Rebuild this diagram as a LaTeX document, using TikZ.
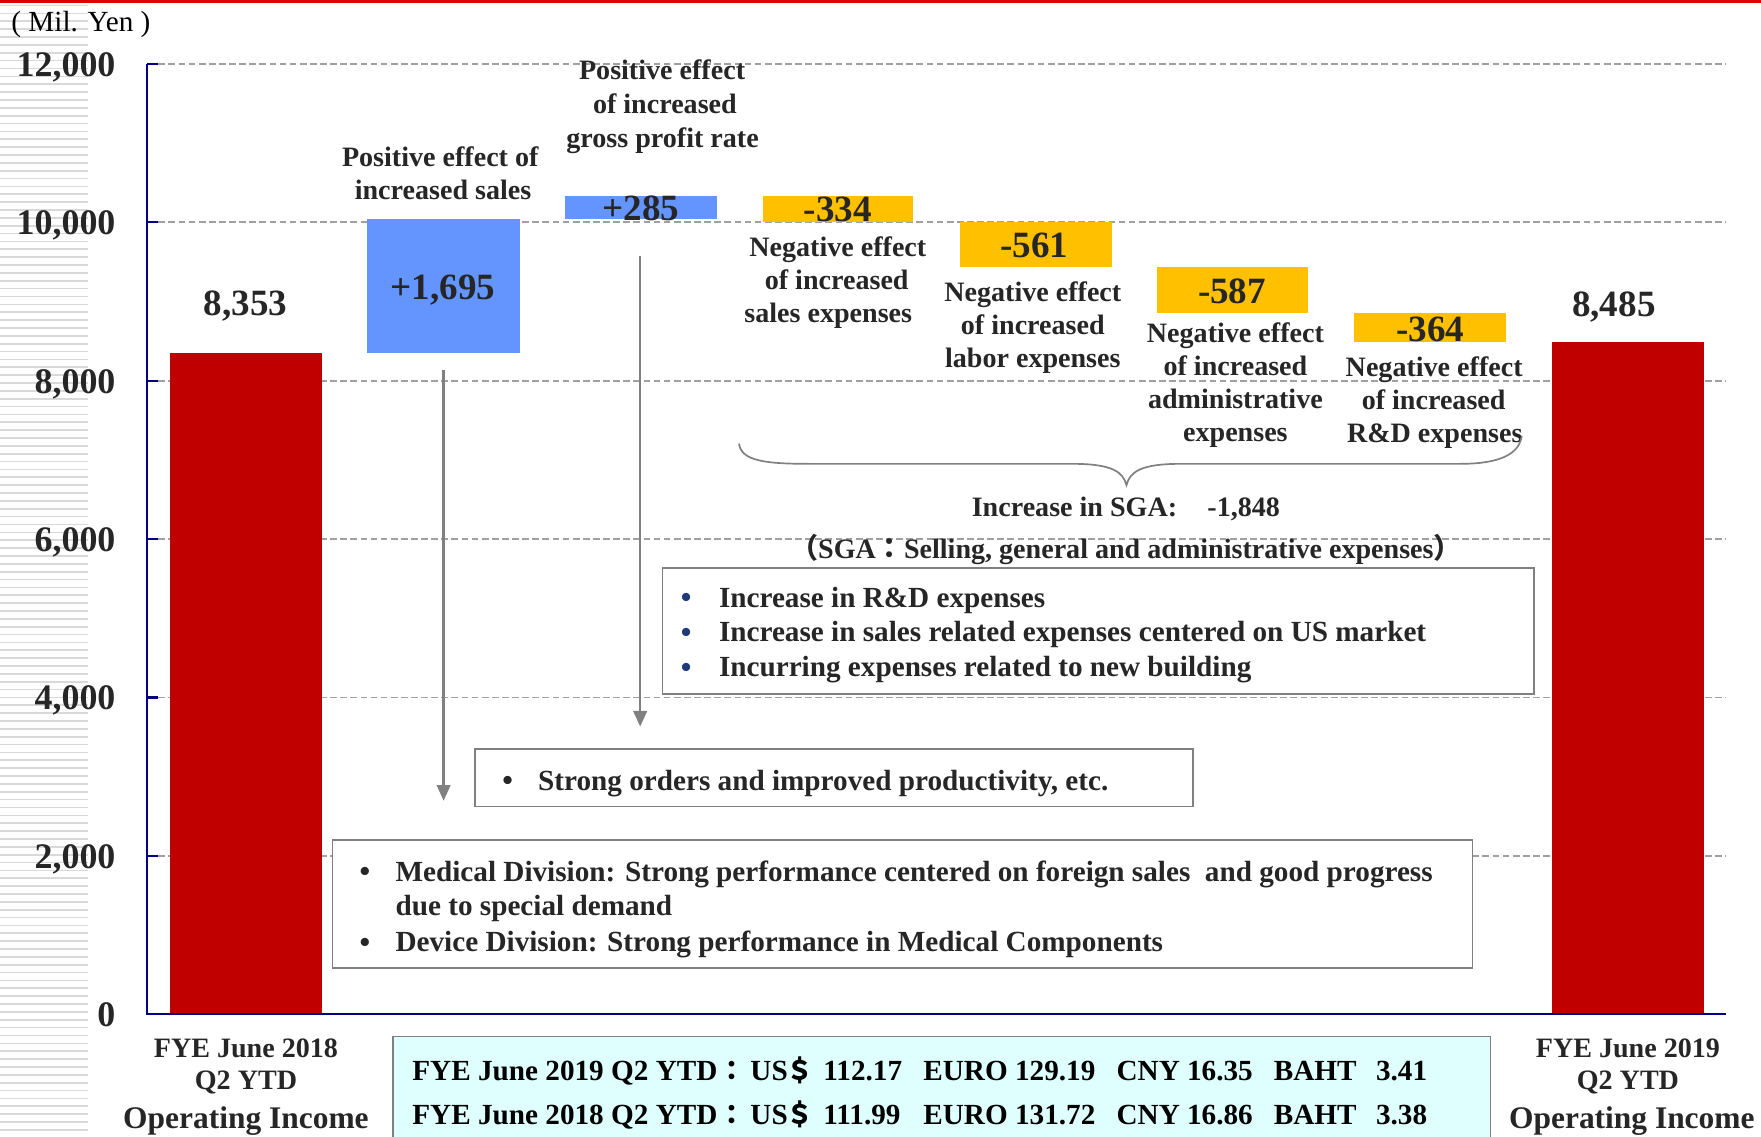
\documentclass[tikz,border=0pt]{standalone}
\usepackage{fontspec}
\setmainfont{Liberation Serif}
\newfontfamily\cjk{Noto Sans CJK JP}
\usetikzlibrary{arrows.meta}
\definecolor{txt}{HTML}{262626}
\definecolor{redbar}{HTML}{C00000}
\definecolor{bluebar}{HTML}{6495FF}
\definecolor{yelbar}{HTML}{FFC000}
\definecolor{axisblue}{HTML}{000080}
\definecolor{gridgray}{HTML}{A0A0A0}
\definecolor{boxgray}{HTML}{808080}
\definecolor{cyanfill}{HTML}{DFFFFF}
\definecolor{stripe}{HTML}{D9D9D9}
\definecolor{topred}{HTML}{E00000}
\definecolor{bulblue}{HTML}{1F3A78}
\begin{document}
\begin{tikzpicture}[x=1pt, y=-1pt,
  wbar/.style={inner sep=0pt, outer sep=0pt, anchor=north west},
  num/.style={font=\bfseries\fontsize{33}{38}\selectfont, text=txt, inner sep=0pt, anchor=base},
  lbl/.style={font=\bfseries\fontsize{25}{30}\selectfont, text=txt, inner sep=0pt, anchor=base},
  biglbl/.style={font=\bfseries\fontsize{28}{32}\selectfont, text=txt, inner sep=0pt, anchor=base},
  ylab/.style={font=\bfseries\fontsize{32}{36}\selectfont, text=txt, inner sep=0pt, anchor=base east},
  gridln/.style={gridgray, line width=1.6pt, dash pattern=on 6pt off 3pt},
  axtick/.style={axisblue, line width=2pt},
  infobox/.style={draw=boxgray, line width=1.5pt, fill=white, inner sep=0pt, outer sep=0pt, anchor=north west},
  btxt/.style={font=\bfseries\fontsize{26}{31}\selectfont, text=txt, inner sep=0pt, anchor=base west},
  bul/.style={font=\bfseries\fontsize{27}{31}\selectfont, inner sep=0pt, anchor=base},
  ctxt/.style={font=\bfseries\fontsize{26}{31}\selectfont, text=black, inner sep=0pt, anchor=base west},
  cjkc/.style={font=\cjk\bfseries\fontsize{24}{31}\selectfont, text=black, inner sep=0pt, anchor=base},
  conn/.style={boxgray, line width=2.2pt, -{Triangle[length=14pt,width=12pt]}},
]
\useasboundingbox (0,0) rectangle (1568,1012);
\fill[white] (0,0) rectangle (1568,1012);
% left stripes
\foreach \i in {0,...,143} \draw[stripe, line width=1.5pt] (0,5+7*\i) -- (78,5+7*\i);
% top red line
\fill[topred] (0,0) rectangle (1568,2.4);
\node[font=\fontsize{26}{30}\selectfont, text=black, inner sep=0pt, anchor=base west] (unit) at (10,28) {( Mil. Yen )};
% grid
\foreach \yy in {57,198,339,480,621,762} {
  \draw[gridln] (141,\yy) -- (1537,\yy);
  \draw[axtick] (131,\yy) -- (141,\yy);
}
% y labels
\node[ylab] (y12) at (103,68) {12,000};
\node[ylab] (y10) at (103,209) {10,000};
\node[ylab] (y8) at (103,350) {8,000};
\node[ylab] (y6) at (103,491) {6,000};
\node[ylab] (y4) at (103,632) {4,000};
\node[ylab] (y2) at (103,773) {2,000};
\node[ylab] (y0) at (103,914) {0};
% bars
\node[wbar, fill=redbar, minimum width=136pt, minimum height=588.9pt] (b1) at (151,314.1) {};
\node[wbar, fill=bluebar, minimum width=136pt, minimum height=119.5pt] (b2) at (327,194.6) {};
\node[wbar, fill=bluebar, minimum width=135pt, minimum height=20.1pt] (b3) at (503,174.5) {};
\node[wbar, fill=yelbar, minimum width=134pt, minimum height=23.5pt] (b4) at (679,174.5) {};
\node[wbar, fill=yelbar, minimum width=135pt, minimum height=39.6pt] (b5) at (855,198.0) {};
\node[wbar, fill=yelbar, minimum width=135pt, minimum height=41.4pt] (b6) at (1030,237.6) {};
\node[wbar, fill=yelbar, minimum width=135pt, minimum height=25.7pt] (b7) at (1206,279.0) {};
\node[wbar, fill=redbar, minimum width=135pt, minimum height=598.2pt] (b8) at (1382,304.8) {};
% axes
\draw[axisblue, line width=2pt] (131,57) -- (131,903) -- (1537,903);
% numbers
\node[num] (n1) at (218.5,281) {8,353};
\node[num] (n2) at (394.5,266.5) {+1,695};
\node[num] (n3) at (570.5,196.5) {+285};
\node[num] (n4) at (746,197.5) {-334};
\node[num] (n5) at (921,229.5) {-561};
\node[num] (n6) at (1097,270.5) {-587};
\node[num] (n7) at (1273.5,304.5) {-364};
\node[num] (n8) at (1437,281.5) {8,485};
% labels
\node[lbl] (l1a) at (392,148) {Positive effect of};
\node[lbl] (l1b) at (394.5,178) {increased sales};
\node[lbl] (l2a) at (589.5,70.6) {Positive effect};
\node[lbl] (l2b) at (592,101) {of increased};
\node[lbl] (l2c) at (590,131.2) {gross profit rate};
\node[lbl] (l3a) at (746,228) {Negative effect};
\node[lbl] (l3b) at (745,257.5) {of increased};
\node[lbl] (l3c) at (737.5,287) {sales expenses};
\node[lbl] (l4a) at (919.6,268.5) {Negative effect};
\node[lbl] (l4b) at (919.6,298) {of increased};
\node[lbl] (l4c) at (919.6,327.5) {labor expenses};
\node[lbl] (l5a) at (1100,305) {Negative effect};
\node[lbl] (l5b) at (1100,334.5) {of increased};
\node[lbl] (l5c) at (1100,364) {administrative};
\node[lbl] (l5d) at (1100,393.5) {expenses};
\node[lbl] (l6a) at (1277,335) {Negative effect};
\node[lbl] (l6b) at (1276.5,364.5) {of increased};
\node[lbl] (l6c) at (1277.5,394) {R\&D expenses};
% brace
\draw[boxgray, line width=1.5pt] (658,395) .. controls (660,410) and (680,413) .. (720,413)
  -- (955,413) .. controls (990,413) and (1000,420) .. (1003,432)
  .. controls (1006,420) and (1016,413) .. (1051,413)
  -- (1300,413) .. controls (1340,413) and (1353,402) .. (1355,388);
\node[lbl] (sga) at (1002.5,459.5) {Increase in SGA:\hspace{27pt}-1,848};
\node[lbl] (sgadef) at (1002.5,497.5) {{\cjk （}SGA{\cjk ：}Selling, general and administrative expenses{\cjk ）}};
% boxes
\node[infobox, minimum width=776pt, minimum height=112pt] (boxsga) at (590,506) {};
\node[bul, text=bulblue] (bs1) at (611,541) {•};
\node[bul, text=bulblue] (bs2) at (611,572) {•};
\node[bul, text=bulblue] (bs3) at (611,603) {•};
\node[btxt] (ts1) at (640,540.5) {Increase in R\&D expenses};
\node[btxt] (ts2) at (640,571.5) {Increase in sales related expenses centered on US market};
\node[btxt] (ts3) at (640,602.5) {Incurring expenses related to new building};
\node[infobox, minimum width=639pt, minimum height=51pt] (boxgp) at (423,667) {};
\node[bul, text=txt] (bg1) at (452,704) {•};
\node[btxt] (tg1) at (479,703.5) {Strong orders and improved productivity, etc.};
\node[infobox, minimum width=1015pt, minimum height=114pt] (boxsales) at (296,748) {};
\node[bul, text=txt] (bm1) at (325,785) {•};
\node[bul, text=txt] (bm3) at (325,848) {•};
\node[btxt] (tm1) at (352,784.5) {Medical Division: Strong performance centered on foreign sales \ and good progress};
\node[btxt] (tm2) at (352,815.5) {due to special demand};
\node[btxt] (tm3) at (352,847.5) {Device Division: Strong performance in Medical Components};
% arrows
\coordinate (a1s) at (395,329);
\coordinate (a1e) at (395,713);
\coordinate (a2s) at (570,228);
\coordinate (a2e) at (570,647);
\draw[conn] (a1s) -- (a1e);
\draw[conn] (a2s) -- (a2e);
% bottom category labels
\node[lbl] (c1a) at (219,941.4) {FYE June 2018};
\node[lbl] (c1b) at (219,970.5) {Q2 YTD};
\node[biglbl] (c1c) at (219,1004.5) {Operating Income};
\node[lbl] (c2a) at (1449.5,941.4) {FYE June 2019};
\node[lbl] (c2b) at (1449.5,970.5) {Q2 YTD};
\node[biglbl] (c2c) at (1453,1004.5) {Operating Income};
% currency box
\node[infobox, fill=cyanfill, minimum width=977pt, minimum height=110pt] (cur) at (350,923) {};
\foreach \yy/\yr/\us/\eu/\cn/\bt [count=\k] in {962/2019/112.17/129.19/16.35/3.41, 1001/2018/111.99/131.72/16.86/3.38} {
  \node[ctxt] (cr\k a) at (367,\yy) {FYE June \yr\ Q2 YTD};
  \node[cjkc] (cr\k b) at (652,\yy) {：};
  \node[ctxt] (cr\k c) at (668,\yy) {US};
  \node[cjkc] (cr\k d) at (712,\yy) {＄};
  \node[ctxt] (cr\k e) at (733,\yy) {\us};
  \node[ctxt] (cr\k f) at (822,\yy) {EURO \eu};
  \node[ctxt] (cr\k g) at (994,\yy) {CNY \cn};
  \node[ctxt] (cr\k h) at (1134,\yy) {BAHT};
  \node[ctxt] (cr\k i) at (1225,\yy) {\bt};
}
\end{tikzpicture}
\end{document}
